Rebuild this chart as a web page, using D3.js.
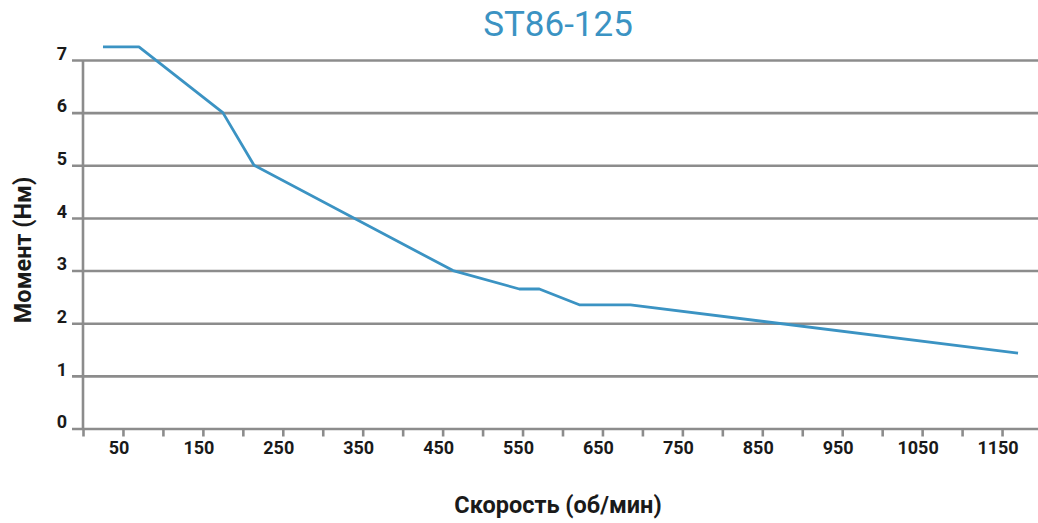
<!DOCTYPE html>
<html>
<head>
<meta charset="utf-8">
<script src="https://cdn.jsdelivr.net/npm/d3@7"></script>
<style>
  html, body { margin: 0; padding: 0; background: #fff; }
  svg { display: block; font-family: Roboto, "Noto Sans", sans-serif; }
</style>
</head>
<body>
<svg id="chart" width="1038" height="523"></svg>
<script>
// ---- data ----
const title = "ST86-125";
const xTitle = "Скорость (об/мин)";
const yTitle = "Момент (Нм)";
const speed  = [25, 70, 175, 214, 463, 546, 571, 621, 685, 1170];
const torque = [7.25, 7.25, 6.0, 5.0, 3.0, 2.65, 2.65, 2.35, 2.35, 1.43];
const xMajorTicks = [50, 150, 250, 350, 450, 550, 650, 750, 850, 950, 1050, 1150];
const xAllTicks = d3.range(0, 1151, 50);
const yTicks = [0, 1, 2, 3, 4, 5, 6, 7];

// ---- layout ----
const svg = d3.select("#chart");
const mLeft = 83, mRight = 1042, mTop = 60, mBottom = 428.5;
const x = d3.scaleLinear().domain([0, 1200]).range([mLeft, mRight]);
const y = d3.scaleLinear().domain([0, 7]).range([mBottom, mTop]);
const gridColor = "#8c8c8c";
const lineColor = "#3b93c3";

// grid lines (horizontal, with stubs to the left of the axis)
const yAxis = d3.axisLeft(y).tickValues(yTicks).tickSize(0).tickFormat("");
const gy = svg.append("g").attr("transform", "translate(72,0)").call(yAxis);
gy.select(".domain").remove();
gy.selectAll(".tick line").attr("stroke", gridColor).attr("stroke-width", 2.6)
  .attr("x1", 0).attr("x2", 1038 - 72);

// y tick labels
svg.append("g").selectAll("text").data(yTicks).join("text")
  .attr("x", 67).attr("y", d => y(d) - 5)
  .attr("text-anchor", "end").attr("dominant-baseline", "middle")
  .attr("font-size", 18).attr("font-weight", 700).attr("fill", "#1a1a1a")
  .text(d => d);

// vertical axis line
svg.append("line").attr("x1", mLeft).attr("x2", mLeft).attr("y1", y(7)).attr("y2", y(0))
  .attr("stroke", gridColor).attr("stroke-width", 2.6);

// x axis with minor + major ticks
const xAxis = d3.axisBottom(x).tickValues(xAllTicks).tickSize(8).tickFormat("");
const gx = svg.append("g").attr("transform", `translate(0,${mBottom})`).call(xAxis);
gx.select(".domain").remove();
gx.selectAll(".tick line").attr("stroke", gridColor).attr("stroke-width", 2.6);

svg.append("g").selectAll("text").data(xMajorTicks).join("text")
  .attr("x", d => x(d) - 4).attr("y", 454)
  .attr("text-anchor", "middle")
  .attr("font-size", 18).attr("font-weight", 700).attr("fill", "#1a1a1a")
  .text(d => d);

// line
const line = d3.line().x((d, i) => x(speed[i])).y(d => y(d));
svg.append("path").datum(torque)
  .attr("d", line)
  .attr("fill", "none").attr("stroke", lineColor).attr("stroke-width", 2.8)
  .attr("stroke-linejoin", "round");

// titles
svg.append("text").attr("x", 558).attr("y", 36).attr("text-anchor", "middle")
  .attr("font-size", 35).attr("fill", lineColor).text(title);

svg.append("text").attr("x", 558).attr("y", 513).attr("text-anchor", "middle")
  .attr("font-size", 23.5).attr("font-weight", 700).attr("fill", "#1a1a1a").text(xTitle);

svg.append("text").attr("transform", "translate(31,250) rotate(-90)").attr("text-anchor", "middle")
  .attr("font-size", 23.5).attr("font-weight", 700).attr("fill", "#1a1a1a").text(yTitle);
</script>
</body>
</html>
